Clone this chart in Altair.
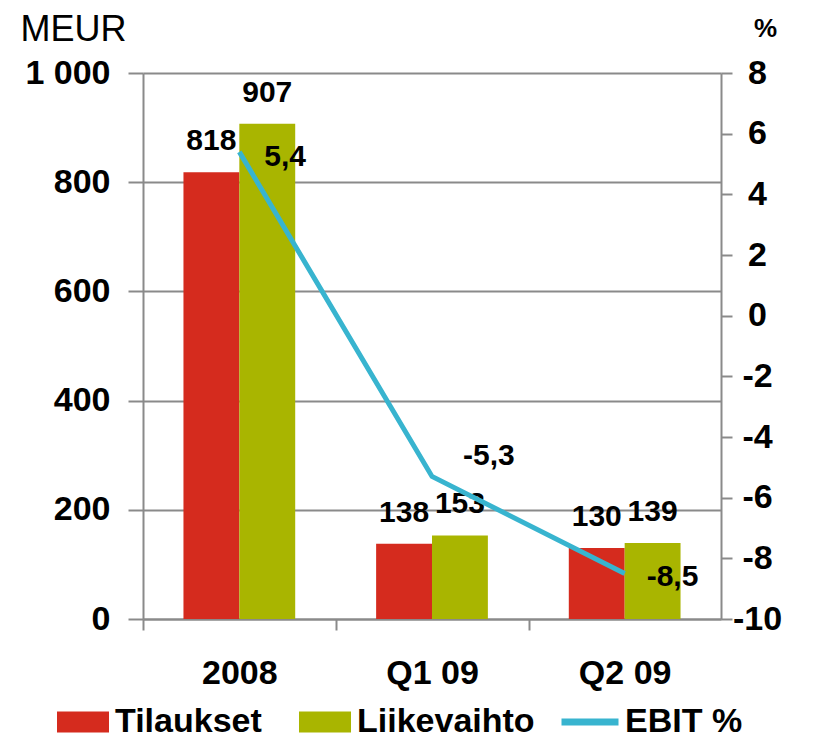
import altair as alt
import pandas as pd

categories = ["2008", "Q1 09", "Q2 09"]
tilaukset = [818, 138, 130]
liikevaihto = [907, 153, 139]
ebit = [5.4, -5.3, -8.5]
series_names = ["Tilaukset", "Liikevaihto"]
line_name = "EBIT %"
left_ticks = [0, 200, 400, 600, 800, 1000]
right_ticks = [-10, -8, -6, -4, -2, 0, 2, 4, 6, 8]

RED = "#D52B1E"
OLIVE = "#A9B500"
BLUE = "#38B4CF"
GRID = "#8A8A8A"
FONT = "Liberation Sans"

bars_df = pd.DataFrame({
    "category": categories * 2,
    "series": [series_names[0]] * 3 + [series_names[1]] * 3,
    "value": tilaukset + liikevaihto,
})
line_df = pd.DataFrame({"category": categories, "ebit": ebit, "name": [line_name] * 3})

x_enc = alt.X("category:N", sort=categories,
              scale=alt.Scale(paddingInner=0.42, paddingOuter=0.21),
              axis=alt.Axis(title=None, bandPosition=0, tickOffset=-40, labelOffset=40,
                            tickSize=11, tickColor=GRID, tickWidth=2,
                            domainColor=GRID, domainWidth=2,
                            labelFontSize=34, labelFontWeight="bold", labelColor="black",
                            labelPadding=26, labelAngle=0, grid=False))
xoff = alt.XOffset("series:N", sort=series_names, scale=alt.Scale(paddingInner=0, paddingOuter=0))

y_left = alt.Y("value:Q", scale=alt.Scale(domain=[0, 1000], nice=False),
               axis=alt.Axis(values=left_ticks, grid=True, gridColor=GRID, gridWidth=2,
                             tickSize=15, tickColor=GRID, tickWidth=2,
                             domainColor=GRID, domainWidth=2,
                             labelFontSize=34, labelFontWeight="bold", labelColor="black",
                             labelPadding=18,
                             labelExpr="replace(format(datum.value, ','), ',', ' ')",
                             title="MEUR", titleAngle=0, titleX=-123, titleY=-33,
                             titleAlign="left", titleBaseline="alphabetic",
                             titleFontSize=36, titleFontWeight="normal", titleColor="black"))

bars = alt.Chart(bars_df).mark_bar().encode(
    x=x_enc, xOffset=xoff, y=y_left,
    fill=alt.Fill("series:N", sort=series_names,
                  scale=alt.Scale(domain=series_names, range=[RED, OLIVE]),
                  legend=alt.Legend(orient="none", legendX=-86, legendY=623,
                                    direction="horizontal", title=None,
                                    symbolType="M-1,-0.4H1V0.4H-1Z", symbolSize=2704,
                                    symbolStrokeWidth=0, symbolOpacity=1,
                                    labelFontSize=34, labelFontWeight="bold", labelColor="black",
                                    labelOffset=6, columnPadding=37, labelLimit=400, padding=0)),
)
bar_labels = alt.Chart(bars_df).mark_text(
    fontSize=30, fontWeight="bold", color="black", baseline="bottom", dy=-16
).encode(x=alt.X("category:N", sort=categories), xOffset=xoff,
         y=alt.Y("value:Q"), text="value:Q")

left_layer = alt.layer(bars, bar_labels)

y_right = alt.Y("ebit:Q", scale=alt.Scale(domain=[-10, 8], nice=False),
                axis=alt.Axis(orient="right", values=right_ticks, grid=False,
                              tickSize=11, tickColor=GRID, tickWidth=2,
                              domainColor=GRID, domainWidth=2,
                              labelFontSize=34, labelFontWeight="bold", labelColor="black",
                              labelAlign="center", labelPadding=25,
                              labelExpr="'' + datum.value",
                              title="%", titleAngle=0, titleX=44, titleY=-37,
                              titleAlign="center", titleBaseline="alphabetic",
                              titleFontSize=26, titleFontWeight="bold", titleColor="black"))

line = alt.Chart(line_df).mark_line(strokeWidth=5).encode(
    x=alt.X("category:N", sort=categories), y=y_right,
    stroke=alt.Stroke("name:N", scale=alt.Scale(domain=[line_name], range=[BLUE]),
                      legend=alt.Legend(orient="none", legendX=415, legendY=617,
                                        title=None, symbolType="stroke", symbolSize=3249,
                                        symbolStrokeWidth=7, labelFontSize=34,
                                        labelFontWeight="bold", labelColor="black",
                                        labelOffset=3, labelLimit=400, padding=0)),
)

def ebit_label(cat, dx, dy):
    return alt.Chart(line_df).transform_filter(
        alt.datum.category == cat
    ).transform_calculate(
        lbl="replace(toString(datum.ebit), '.', ',')"
    ).mark_text(fontSize=30, fontWeight="bold", color="black", align="left",
                baseline="middle", dx=dx, dy=dy).encode(
        x=alt.X("category:N", sort=categories), y=alt.Y("ebit:Q"), text="lbl:N")

right_layer = alt.layer(line, ebit_label("2008", 25, 5), ebit_label("Q1 09", 31, -20),
                        ebit_label("Q2 09", 22, 3))

chart = alt.layer(left_layer, right_layer).resolve_scale(
    y="independent", fill="independent", stroke="independent"
).properties(
    width=578, height=546,
    autosize=alt.AutoSizeParams(type="none"),
    padding={"left": 135, "top": 65, "right": 89, "bottom": 121},
).configure(font=FONT).configure_view(stroke=None)

chart.save("out.html", embed_options={"renderer": "svg", "actions": False})
